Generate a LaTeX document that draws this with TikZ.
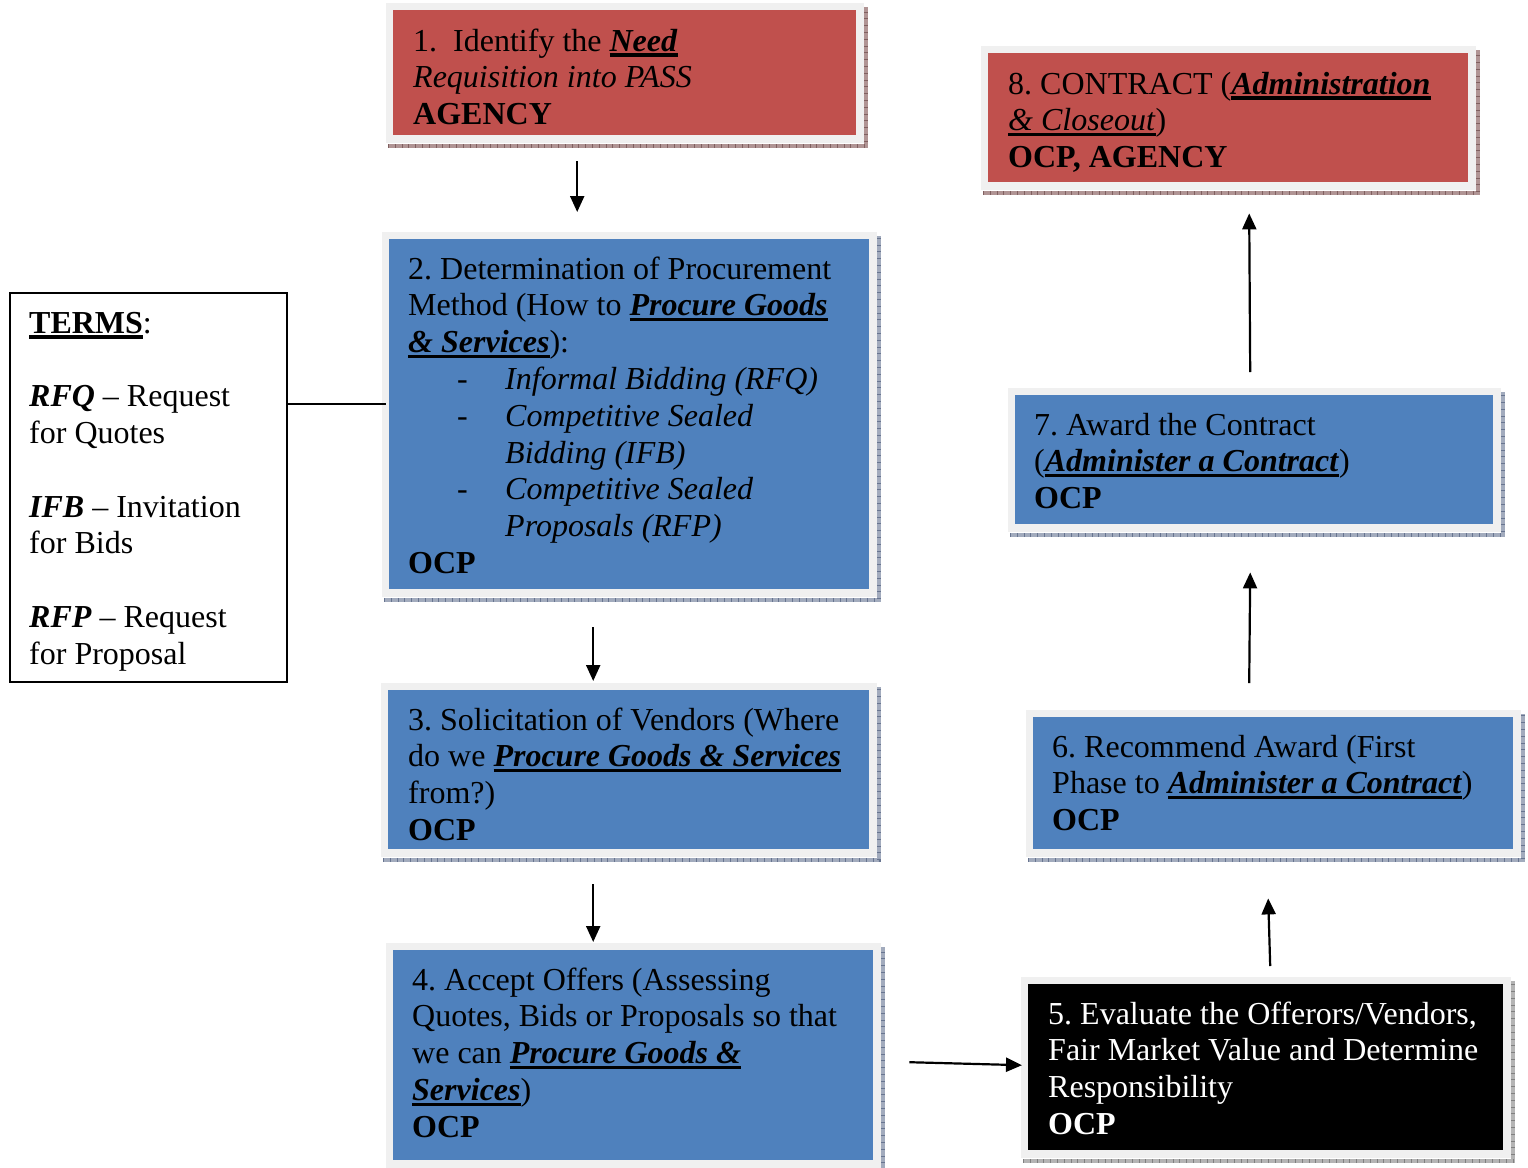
\documentclass[tikz,border=0pt]{standalone}
\usepackage{fontspec}
\setmainfont{Liberation Serif}
\usetikzlibrary{arrows.meta,calc}
\frenchspacing

\definecolor{procred}{HTML}{C0504D}
\definecolor{procblue}{HTML}{4F81BD}
\definecolor{framegray}{HTML}{F0F0F0}
\definecolor{shred}{HTML}{B09494}
\definecolor{shredd}{HTML}{806060}
\definecolor{shblue}{HTML}{A2ABBD}
\definecolor{shblued}{HTML}{687590}
\definecolor{shgray}{HTML}{B4B4B4}
\definecolor{shgrayd}{HTML}{808080}

% thick word underline
\newcommand\ulw[1]{\leavevmode\setbox0\hbox{#1}\rlap{\rule[-5.5pt]{\wd0}{3.2pt}}\box0}
\newcommand\bfit[1]{\textbf{\textit{#1}}}
% hatched drop shadow along the bottom and right of a box
\newcommand\boxshadow[3]{%
  \draw[line width=4pt,#2] ($(#1.south west)+(-5,10.5)$) -- ($(#1.south east)+(10,10.5)$) -- ($(#1.north east)+(10,-3)$);
  \draw[line width=4pt,#3,dash pattern=on 0.8pt off 6pt] ($(#1.south west)+(-5,10.5)$) -- ($(#1.south east)+(10,10.5)$) -- ($(#1.north east)+(10,-3)$);}

\tikzset{
  stepbox/.style={rectangle, inner sep=0pt, anchor=north west, fill=#1,
    preaction={draw=framegray, line width=15pt}},
  txt/.style={anchor=base west, inner sep=0pt, font=\fontsize{32}{36.8}\selectfont},
  arr/.style={-{Triangle[length=16pt,width=14pt]}, line width=2.2pt},
  link/.style={line width=2pt}
}

\begin{document}
\begin{tikzpicture}[x=1pt,y=-1pt]
\useasboundingbox[fill=white] (0,0) rectangle (1528,1167);

% process steps
\node[stepbox=procred,  minimum width=463pt, minimum height=125pt] (b1) at (393,10) {};
\node[stepbox=procblue, minimum width=480pt, minimum height=350pt] (b2) at (389,239) {};
\node[stepbox=procblue, minimum width=481pt, minimum height=159pt] (b3) at (388,690) {};
\node[stepbox=procblue, minimum width=480pt, minimum height=210pt] (b4) at (393,950) {};
\node[stepbox=black,    minimum width=475pt, minimum height=166pt] (b5) at (1028,984) {};
\node[stepbox=procblue, minimum width=480pt, minimum height=132pt] (b6) at (1033,717) {};
\node[stepbox=procblue, minimum width=478pt, minimum height=129pt] (b7) at (1015,395) {};
\node[stepbox=procred,  minimum width=480pt, minimum height=129pt] (b8) at (988,53) {};

\boxshadow{b1}{shred}{shredd}
\boxshadow{b2}{shblue}{shblued}
\boxshadow{b3}{shblue}{shblued}
\boxshadow{b4}{shblue}{shblued}
\boxshadow{b5}{shgray}{shgrayd}
\boxshadow{b6}{shblue}{shblued}
\boxshadow{b7}{shblue}{shblued}
\boxshadow{b8}{shred}{shredd}

% glossary
\node[draw=black, line width=2pt, fill=white, inner sep=0pt, anchor=north west,
      minimum width=277pt, minimum height=389pt] (terms) at (9,292) {};

% step texts
\node[txt] (t1) at (413,51) {\parbox[t]{520pt}{\raggedright
1.\hspace{0.5em}Identify the \ulw{\bfit{Need}}\\
\textit{Requisition into PASS}\\
\textbf{AGENCY}}};

\node[txt] (t2) at (408,279) {\parbox[t]{520pt}{\raggedright
2. Determination of Procurement\\
Method (How to \ulw{\bfit{Procure Goods}}\\
\ulw{\bfit{\& Services}}):\\
\hspace*{49pt}\makebox[48pt][l]{-}\textit{Informal Bidding (RFQ)}\\
\hspace*{49pt}\makebox[48pt][l]{-}\textit{Competitive Sealed}\\
\hspace*{97pt}\textit{Bidding (IFB)}\\
\hspace*{49pt}\makebox[48pt][l]{-}\textit{Competitive Sealed}\\
\hspace*{97pt}\textit{Proposals (RFP)}\\
\textbf{OCP}}};

\node[txt] (t3) at (408,730) {\parbox[t]{520pt}{\raggedright
3. Solicitation of Vendors (Where\\
do we \ulw{\bfit{Procure Goods \& Services}}\\
from?)\\
\textbf{OCP}}};

\node[txt] (t4) at (412,990) {\parbox[t]{520pt}{\raggedright
4. Accept Offers (Assessing\\
Quotes, Bids or Proposals so that\\
we can \ulw{\bfit{Procure Goods \&}}\\
\ulw{\bfit{Services}})\\
\textbf{OCP}}};

\node[txt, text=white] (t5) at (1048,1024) {\parbox[t]{520pt}{\raggedright
5. Evaluate the Offerors/Vendors,\\
Fair Market Value and Determine\\
Responsibility\\
\textbf{OCP}}};

\node[txt] (t6) at (1052,757) {\parbox[t]{520pt}{\raggedright
6. Recommend Award (First\\
Phase to \ulw{\bfit{Administer a Contract}})\\
\textbf{OCP}}};

\node[txt] (t7) at (1034,435) {\parbox[t]{520pt}{\raggedright
7. Award the Contract\\
(\ulw{\bfit{Administer a Contract}})\\
\textbf{OCP}}};

\node[txt] (t8) at (1008,94) {\parbox[t]{520pt}{\raggedright
8. CONTRACT (\ulw{\bfit{Administration}}\\
\ulw{\textit{\& Closeout}})\\
\textbf{OCP, AGENCY}}};

\node[txt] (tt) at (29,333) {\parbox[t]{400pt}{\raggedright
\ulw{\textbf{TERMS}}:\\[36.8pt]
\bfit{RFQ} – Request\\
for Quotes\\[36.8pt]
\bfit{IFB} – Invitation\\
for Bids\\[36.8pt]
\bfit{RFP} – Request\\
for Proposal}};

% flow
\draw[arr] ($(b1.south)+(-47.5,26)$) -- ($(b2.north)+(-52,-27)$);
\draw[arr] ($(b2.south)+(-36,38)$) -- ($(b3.north)+(-35.5,-9)$);
\draw[arr] ($(b3.south)+(-35.5,35)$) -- ($(b4.north)+(-40,-8)$);
\draw[arr] ($(b4.east)+(36,7)$) -- ($(b5.west)+(-6,-2)$);
\draw[arr] ($(b5.north)+(4.5,-18)$) -- ($(b6.south)+(-5,49)$);
\draw[arr] ($(b6.north)+(-24,-34)$) -- ($(b7.south)+(-4,48)$);
\draw[arr] ($(b7.north)+(-4,-23)$) -- ($(b8.south)+(21,31)$);
\draw[link] ($(terms.north east)+(0,112)$) -- ($(b2.north west)+(-3,165)$);
\end{tikzpicture}
\end{document}
